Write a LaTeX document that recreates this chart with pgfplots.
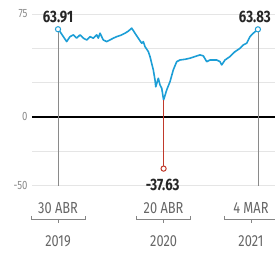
\documentclass[border=0pt]{standalone}
\usepackage{pgfplots}
\pgfplotsset{compat=1.18}
\usepackage{fontspec}
\setmainfont{Fira Sans}[FakeStretch=0.8]
\usetikzlibrary{calc}
\definecolor{lineblue}{HTML}{1C9ED6}
\definecolor{spikered}{HTML}{C0392B}
\definecolor{txtgray}{HTML}{666666}
\definecolor{ticgray}{HTML}{8A8A8A}
\newcommand{\xgroup}[4]{%
  \node[font=\fontsize{16}{16}\selectfont, text=txtgray] at ($(#1)+(#2pt,-22pt)$) {#3};
  \draw[txtgray!80, line width=0.7pt] ($(#1)+(#2pt-27pt,-30.4pt)$) -- ++(0,-3pt) -- ++(54pt,0) -- ++(0,3pt);
  \draw[txtgray!80, line width=0.7pt] ($(#1)+(#2pt,-33.4pt)$) -- ++(0,-4pt);
  \node[font=\fontsize{16}{16}\selectfont, text=txtgray] at ($(#1)+(#2pt,-55.5pt)$) {#4};
}
\begin{document}
\begin{tikzpicture}
\begin{axis}[name=ax, scale only axis, width=243pt, height=171.6pt,
  xmin=-87.7, xmax=731.6, ymin=-50, ymax=75,
  axis line style={draw=none}, clip=false,
  xtick=\empty,
  ytick={-50,-25,0,25,50,75}, yticklabels={-50,,0,,,75},
  ymajorgrids, grid style={draw=black!10, line width=0.6pt},
  major tick length=0pt,
  /pgf/number format/assume math mode=true,
  yticklabel style={font=\fontsize{12}{12}\selectfont, text=ticgray, xshift=-1pt},
]
% zero line
\draw[black, line width=1.2pt] (axis cs:-87.7,0) -- (axis cs:731.6,0);
% vertical guides
\draw[ticgray, line width=0.6pt] (axis cs:0,63.91) -- (axis cs:0,-50);
\draw[ticgray, line width=0.6pt] (axis cs:674,63.83) -- (axis cs:674,-50);
% main series
\addplot[lineblue, line width=1.6pt, line join=round] coordinates {
(0,63.91) (6.7,62.2) (17.9,58.5) (29.3,54.9) (40.5,58.5) (51.6,59.8) (63,57.4) (74.2,59.8)
(85.3,57.4) (96.8,56.1) (107.9,58.5) (119,57.4) (130.5,59.8) (135.9,57.4) (141.6,61)
(152.7,56.1) (164.2,54.9) (175.3,56.1) (186.4,57.4) (197.9,58.5) (212,59.5) (225.9,61)
(237,62.5) (248.5,64.7) (259.6,61) (270.7,57.4) (282.2,53.7) (287.6,54.9) (293.3,51.2)
(304.5,47.6) (310.2,44) (315.9,39) (321.3,34.3) (327,27) (329.6,22) (338.2,28.2)
(343.9,23.3) (349.6,21) (356,12.4) (366.5,19.7) (377.6,25.7) (388.7,34.3) (400.2,40.3)
(411.3,41.5) (428.2,42) (445,42.8) (461.9,44) (478.8,45.2) (489.9,44.5) (501.3,40.3)
(512.5,41.5) (523.6,41.5) (535,41.5) (546.2,40.3) (551.9,37.9) (563,41.5) (579.9,44)
(596.8,47.6) (613.6,50) (624.7,52.5) (636.2,53.7) (647.3,58.5) (658.5,61) (674,63.83)
};
% spike
\addplot[spikered, line width=1.4pt] coordinates {(356,12.4) (356,-37.63)};
\addplot[only marks, mark=*, mark size=2.6pt, draw=lineblue, fill=white, line width=1pt]
  coordinates {(0,63.91) (674,63.83)};
\addplot[only marks, mark=*, mark size=2.6pt, draw=spikered, fill=white, line width=1pt]
  coordinates {(356,-37.63)};
\coordinate (pA) at (axis cs:0,63.91);
\coordinate (pB) at (axis cs:674,63.83);
\coordinate (pC) at (axis cs:356,-37.63);
\coordinate (t1) at (axis cs:0,-50);
\coordinate (t2) at (axis cs:356,-50);
\coordinate (t3) at (axis cs:674,-50);
\end{axis}
% value labels
\node[font=\fontsize{16.5}{16.5}\selectfont\bfseries, text=black!85] at ($(pA)+(0,12pt)$) {63.91};
\node[font=\fontsize{16.5}{16.5}\selectfont\bfseries, text=black!85] at ($(pB)+(-3pt,12.7pt)$) {63.83};
\node[font=\fontsize{16.5}{16.5}\selectfont\bfseries, text=black!85] at ($(pC)+(-1pt,-16pt)$) {-37.63};
% x labels
\xgroup{t1}{0}{30 ABR}{2019}
\xgroup{t2}{0}{20 ABR}{2020}
\xgroup{t3}{-7}{4 MAR}{2021}
\pgfresetboundingbox
\path[use as bounding box] ($(ax.south west)+(-32pt,-67.4pt)$) rectangle ($(ax.north east)+(0,14pt)$);
\end{tikzpicture}
\end{document}
